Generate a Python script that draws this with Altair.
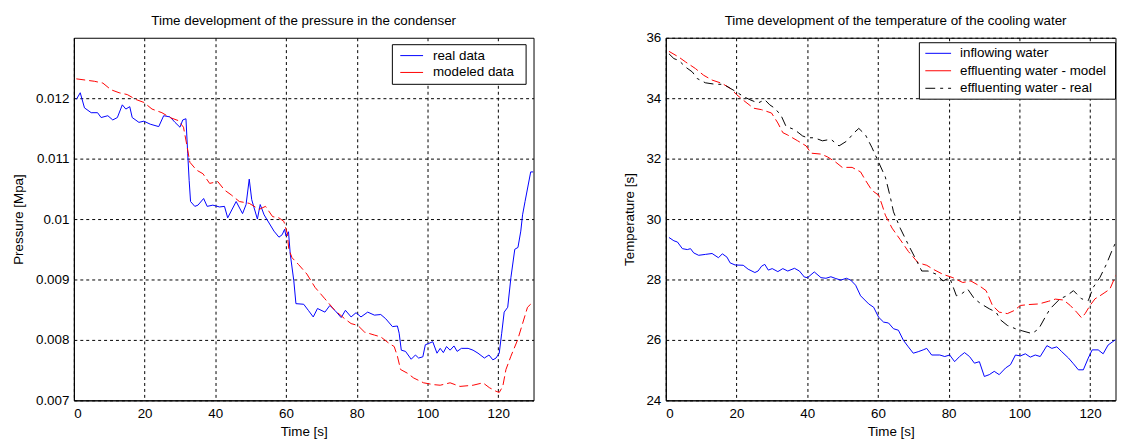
import altair as alt
import pandas as pd

FONT = "Liberation Sans"
FS = 13.5

# ---------------- left panel: pressure in the condenser ----------------
left_title = "Time development of the pressure in the condenser"
left_ylabel = "Pressure [Mpa]"
xlabel = "Time [s]"
left_legend = ["real data", "modeled data"]
left_yticks = [0.007, 0.008, 0.009, 0.01, 0.011, 0.012]
xticks = [0, 20, 40, 60, 80, 100, 120]

real_t = [0.7, 1.8, 3.0, 4.9, 6.7, 7.7, 9.6, 11.0, 12.3, 13.7, 14.7, 15.8, 16.5, 18.4, 19.8,
          21.6, 24.0, 25.4, 27.2, 28.6, 30.0, 30.8, 31.7, 32.2, 32.6, 33.0, 34.2, 35.1, 36.7,
          37.7, 39.3, 41.2, 42.6, 43.5, 45.9, 47.7, 48.7, 49.6, 50.3, 51.9, 52.7, 53.8, 56.6,
          58.0, 58.9, 59.6, 60.0, 60.7, 61.2, 62.2, 62.8, 65.0, 66.3, 67.7, 68.9, 71.0, 72.4,
          73.8, 75.6, 76.8, 78.4, 79.8, 81.2, 83.1, 85.0, 86.8, 88.2, 90.1, 91.5, 92.0, 92.6,
          93.8, 95.4, 96.6, 97.5, 98.7, 99.4, 100.3, 101.5, 102.7, 103.6, 104.5, 105.4, 106.4,
          107.5, 108.4, 109.6, 111.5, 112.9, 114.3, 116.1, 117.4, 118.5, 119.4, 120.3, 121.0,
          121.7, 122.7, 123.6, 124.7, 125.6, 126.4, 126.9, 127.6, 129.2, 130.0]
real_p = [0.01198, 0.01209, 0.01184, 0.01176, 0.01176, 0.01168, 0.01171, 0.01164, 0.01168,
          0.01189, 0.01182, 0.01186, 0.01168, 0.01160, 0.01162, 0.01157, 0.01153, 0.01171,
          0.01169, 0.01160, 0.01152, 0.01164, 0.01166, 0.01108, 0.01064, 0.01029, 0.01021,
          0.01023, 0.01034, 0.01021, 0.01023, 0.01020, 0.01021, 0.01002, 0.01029, 0.01009,
          0.01024, 0.01066, 0.01032, 0.01000, 0.01024, 0.01007, 0.00980, 0.00970, 0.00974,
          0.00983, 0.00972, 0.00979, 0.00942, 0.00898, 0.00860, 0.00859, 0.00849, 0.00838,
          0.00852, 0.00846, 0.00857, 0.00849, 0.00837, 0.00849, 0.00838, 0.00845, 0.00838,
          0.00846, 0.00841, 0.00842, 0.00835, 0.00822, 0.00823, 0.00811, 0.00783, 0.00781,
          0.00768, 0.00775, 0.00770, 0.00772, 0.00792, 0.00794, 0.00797, 0.00778, 0.00786,
          0.00779, 0.00789, 0.00783, 0.00790, 0.00781, 0.00786, 0.00786, 0.00783, 0.00778,
          0.00770, 0.00775, 0.00767, 0.00770, 0.00778, 0.00811, 0.00846, 0.00854, 0.00903,
          0.00950, 0.00953, 0.00980, 0.01007, 0.01029, 0.01078, 0.01078]

model_t = [0.7, 5.8, 8.2, 10.5, 12.8, 15.1, 17.5, 19.8, 22.1, 24.9, 27.2, 29.5, 31.0, 31.9,
           32.8, 34.7, 36.5, 38.4, 40.7, 42.6, 44.5, 46.8, 49.6, 52.4, 54.2, 56.2, 58.0, 59.4,
           60.3, 60.8, 61.7, 63.5, 65.9, 68.2, 71.0, 73.8, 76.6, 78.4, 80.3, 82.2, 85.0, 86.8,
           89.2, 90.6, 91.5, 92.4, 94.3, 96.1, 98.9, 101.7, 103.6, 106.4, 109.2, 112.9, 115.7,
           117.5, 119.4, 120.3, 121.3, 122.2, 123.6, 125.5, 126.9, 128.3, 129.7]
model_p = [0.01232, 0.01228, 0.01225, 0.01214, 0.01209, 0.01206, 0.01198, 0.01193, 0.01182,
           0.01176, 0.01168, 0.01163, 0.01152, 0.01124, 0.01094, 0.01081, 0.01075, 0.01059,
           0.01062, 0.01048, 0.01040, 0.01029, 0.01026, 0.01016, 0.01021, 0.01004, 0.01002,
           0.00996, 0.00977, 0.00950, 0.00936, 0.00925, 0.00909, 0.00887, 0.00868, 0.00849,
           0.00835, 0.00827, 0.00824, 0.00813, 0.00808, 0.00805, 0.00794, 0.00789, 0.00773,
           0.00751, 0.00745, 0.00737, 0.00729, 0.00726, 0.00725, 0.00729, 0.00723, 0.00725,
           0.00729, 0.00721, 0.00715, 0.00713, 0.00723, 0.00751, 0.00773, 0.00800, 0.00827,
           0.00854, 0.00862]

# ---------------- right panel: cooling water temperature ----------------
right_title = "Time development of the temperature of the cooling water"
right_ylabel = "Temperature [s]"
right_legend = ["inflowing water", "effluenting water - model", "effluenting water - real"]
right_yticks = [24, 26, 28, 30, 32, 34, 36]

in_t = [0.9, 2.3, 3.3, 4.7, 6.1, 7.0, 7.9, 9.3, 11.2, 13.1, 14.9, 16.0, 17.3, 18.2, 19.6, 21.9,
        23.3, 25.2, 26.1, 27.1, 28.0, 29.0, 30.1, 31.7, 33.1, 34.5, 36.4, 37.8, 39.2, 40.1,
        42.0, 43.9, 45.3, 46.7, 48.1, 49.5, 51.1, 52.3, 53.7, 55.1, 57.4, 58.8, 60.2, 61.6,
        63.0, 64.4, 65.8, 67.2, 68.6, 70.0, 71.4, 72.8, 73.8, 75.2, 77.5, 78.9, 80.3, 81.7,
        83.1, 84.5, 85.9, 87.3, 88.7, 90.1, 91.5, 92.9, 94.3, 96.1, 97.5, 98.9, 100.3, 101.7,
        103.1, 104.5, 105.9, 107.8, 109.2, 110.6, 112.0, 113.9, 115.3, 116.7, 118.1, 119.5,
        120.6, 122.3, 123.7, 125.1, 127.0, 128.5]
in_v = [29.39, 29.28, 29.24, 29.02, 28.99, 29.02, 28.88, 28.80, 28.83, 28.86, 28.72, 28.85,
        28.74, 28.55, 28.48, 28.47, 28.34, 28.23, 28.28, 28.44, 28.50, 28.31, 28.36, 28.26,
        28.36, 28.28, 28.37, 28.28, 28.08, 28.06, 28.25, 28.06, 28.04, 28.09, 28.03, 27.98,
        28.04, 27.98, 27.81, 27.46, 27.19, 27.08, 26.75, 26.59, 26.56, 26.37, 26.32, 25.99,
        25.77, 25.56, 25.61, 25.67, 25.72, 25.50, 25.50, 25.45, 25.50, 25.28, 25.45, 25.58,
        25.45, 25.23, 25.28, 24.79, 24.85, 24.96, 24.85, 25.07, 25.18, 25.50, 25.47, 25.54,
        25.43, 25.50, 25.45, 25.81, 25.72, 25.77, 25.61, 25.40, 25.21, 25.01, 25.01, 25.40,
        25.67, 25.67, 25.54, 25.83, 25.99, 26.05]

mod_t = [0.9, 3.7, 5.6, 8.4, 10.7, 13.1, 15.9, 18.2, 20.1, 22.4, 24.8, 27.1, 29.9, 31.7, 33.1,
         34.5, 37.3, 39.7, 41.1, 43.9, 45.7, 48.1, 49.9, 52.7, 55.1, 56.5, 58.3, 60.2, 61.2,
         62.1, 64.0, 66.3, 68.6, 71.4, 73.8, 75.6, 78.4, 81.2, 84.0, 86.3, 88.7, 90.6, 92.4,
         94.3, 96.6, 98.5, 100.3, 102.7, 105.5, 108.3, 110.2, 112.5, 114.4, 116.2, 117.6,
         118.6, 120.0, 121.4, 122.8, 124.2, 125.6, 127.0, 128.5]
mod_v = [35.55, 35.36, 35.20, 34.98, 34.76, 34.60, 34.49, 34.33, 34.11, 33.89, 33.67, 33.62,
         33.51, 33.18, 32.86, 32.78, 32.59, 32.42, 32.18, 32.15, 32.06, 31.88, 31.71, 31.71,
         31.56, 31.28, 30.95, 30.79, 30.46, 30.13, 29.70, 29.32, 28.93, 28.55, 28.47, 28.34,
         28.17, 28.06, 27.90, 27.95, 27.79, 27.63, 27.14, 26.92, 26.87, 26.97, 27.14, 27.17,
         27.19, 27.28, 27.35, 27.32, 27.14, 26.92, 26.73, 26.87, 27.14, 27.36, 27.46, 27.57,
         27.68, 28.06, 28.40]

eff_t = [0.9, 2.3, 3.7, 5.6, 7.5, 8.9, 11.2, 14.0, 16.3, 18.2, 20.1, 21.9, 23.8, 26.1, 28.0,
         29.4, 30.8, 32.6, 34.0, 36.4, 38.7, 40.1, 42.0, 44.3, 46.7, 49.0, 51.3, 53.2, 54.6,
         56.5, 58.3, 60.2, 62.1, 63.5, 64.4, 66.3, 68.6, 70.5, 72.4, 74.2, 76.6, 78.4, 80.3,
         82.2, 83.6, 85.4, 87.3, 89.2, 91.5, 93.4, 94.8, 96.6, 98.9, 100.8, 103.6, 105.5,
         107.3, 108.7, 111.5, 113.4, 115.3, 117.6, 119.5, 120.9, 122.8, 124.6, 126.5, 128.0]
eff_v = [35.47, 35.31, 35.25, 35.03, 34.87, 34.65, 34.51, 34.46, 34.46, 34.33, 34.20, 34.06,
         33.95, 33.84, 33.95, 33.78, 33.67, 33.43, 33.07, 32.96, 32.75, 32.69, 32.69, 32.59,
         32.64, 32.42, 32.59, 32.85, 33.00, 32.78, 32.37, 31.88, 31.39, 30.73, 30.24, 29.70,
         29.15, 28.72, 28.28, 28.28, 28.17, 27.95, 28.06, 27.46, 27.52, 27.68, 27.36, 27.19,
         27.03, 26.92, 26.65, 26.48, 26.37, 26.30, 26.21, 26.37, 26.75, 27.03, 27.36, 27.46,
         27.63, 27.36, 27.30, 27.74, 28.07, 28.50, 29.04, 29.40]

BLUE = "#0000ff"
RED = "#ff0000"
BLACK = "#000000"
RED_DASH = [9, 4]
BLACK_DASH = [10, 5, 3, 5]

W_LEFT, W_RIGHT, H = 464, 454, 366
X_LEFT_MAX = 130
X_RIGHT_MAX = 127.2


def x_enc(dmax):
    return alt.X("t:Q", scale=alt.Scale(domain=[0, dmax], nice=False, zero=False),
                 axis=alt.Axis(values=xticks, title=xlabel, format="d"))


def line(df, ycol, ydomain, yticks, yfmt, ytitle, color, dash, dmax):
    kw = dict(color=color, strokeWidth=1, clip=True)
    if dash:
        kw["strokeDash"] = dash
    return alt.Chart(df).mark_line(**kw).encode(
        x=x_enc(dmax),
        y=alt.Y(f"{ycol}:Q", scale=alt.Scale(domain=ydomain, nice=False, zero=False),
                axis=alt.Axis(values=yticks, title=ytitle, format=yfmt)),
        order="t:Q",
    )


one = pd.DataFrame({"k": [0]})


def legend_layers(box, entries):
    x1, x2, y1, y2 = box
    layers = [alt.Chart(one).mark_rect(fill="white", stroke="black", strokeWidth=1).encode(
        x=alt.value(x1), x2=alt.value(x2), y=alt.value(y1), y2=alt.value(y2))]
    for label, color, dash, sx1, sx2, tx, yy in entries:
        kw = dict(color=color, strokeWidth=1)
        if dash:
            kw["strokeDash"] = dash
        layers.append(alt.Chart(one).mark_rule(**kw).encode(
            x=alt.value(sx1), x2=alt.value(sx2), y=alt.value(yy)))
        layers.append(alt.Chart(pd.DataFrame({"label": [label]})).mark_text(
            align="left", baseline="middle", font=FONT, fontSize=FS, color="black").encode(
            x=alt.value(tx), y=alt.value(yy), text="label:N"))
    return layers


def title_layer(text, cx):
    return alt.Chart(pd.DataFrame({"label": [text]})).mark_text(
        align="center", baseline="middle", font=FONT, fontSize=FS, color="black").encode(
        x=alt.value(cx), y=alt.value(-17), text="label:N")


df_real = pd.DataFrame({"t": real_t, "p": real_p})
df_model = pd.DataFrame({"t": model_t, "p": model_p})
ldom = [0.007, 0.013]
left = alt.layer(
    line(df_real, "p", ldom, left_yticks, "~g", left_ylabel, BLUE, None, X_LEFT_MAX),
    line(df_model, "p", ldom, left_yticks, "~g", left_ylabel, RED, RED_DASH, X_LEFT_MAX),
    *legend_layers((321.5, 456.5, 7, 47), [
        (left_legend[0], BLUE, None, 329.5, 352.5, 362.5, 18),
        (left_legend[1], RED, None, 329.5, 352.5, 362.5, 35),
    ]),
    title_layer(left_title, W_LEFT / 2),
).properties(width=W_LEFT, height=H)

df_in = pd.DataFrame({"t": in_t, "v": in_v})
df_mod = pd.DataFrame({"t": mod_t, "v": mod_v})
df_eff = pd.DataFrame({"t": eff_t, "v": eff_v})
rdom = [24, 36]
right = alt.layer(
    line(df_in, "v", rdom, right_yticks, "d", right_ylabel, BLUE, None, X_RIGHT_MAX),
    line(df_mod, "v", rdom, right_yticks, "d", right_ylabel, RED, RED_DASH, X_RIGHT_MAX),
    line(df_eff, "v", rdom, right_yticks, "d", right_ylabel, BLACK, BLACK_DASH, X_RIGHT_MAX),
    *legend_layers((256, 454, 5, 62), [
        (right_legend[0], BLUE, None, 262, 288, 297, 15.7),
        (right_legend[1], RED, None, 262, 288, 297, 33.3),
        (right_legend[2], BLACK, BLACK_DASH, 262, 288, 297, 51),
    ]),
    title_layer(right_title, 232),
).properties(width=W_RIGHT, height=H)

chart = alt.hconcat(left, right, spacing=133.5, bounds="flush").properties(
    padding={"left": 2.5, "top": 3, "right": 0, "bottom": 0}
).configure_view(stroke="black", strokeWidth=1).configure_axis(
    labelFont=FONT, labelFontSize=FS, labelColor="black",
    titleFont=FONT, titleFontSize=FS, titleColor="black", titleFontWeight="normal",
    domainColor="black", domainWidth=1,
    ticks=False, labelPadding=5,
    grid=True, gridColor="black", gridOpacity=1, gridDash=[3, 3], gridWidth=1,
).configure_axisX(labelPadding=6.5, titlePadding=5).configure_axisY(titlePadding=10)

chart.save("out.html", embed_options={"renderer": "svg", "actions": False})
